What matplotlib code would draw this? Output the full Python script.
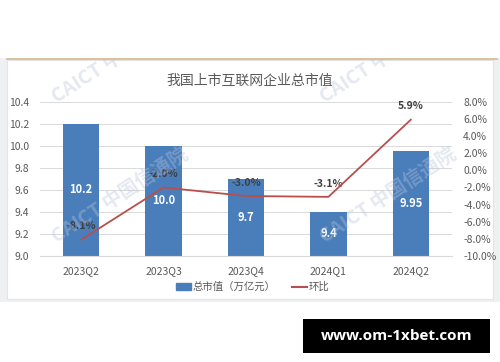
import matplotlib.pyplot as plt
from matplotlib.patches import Rectangle
from matplotlib.lines import Line2D
import numpy as np

plt.rcParams['font.family'] = ['Noto Sans CJK SC', 'DejaVu Sans']

# 数据
quarters = ["2023Q2", "2023Q3", "2023Q4", "2024Q1", "2024Q2"]
market_cap = [10.2, 10.0, 9.7, 9.4, 9.95]          # 总市值（万亿元）
cap_labels = ["10.2", "10.0", "9.7", "9.4", "9.95"]
qoq = [-8.1, -2.0, -3.0, -3.1, 5.9]                # 环比 %

bar_color = "#4a7ebb"
line_color = "#b84f4c"
text_gray = "#595959"

fig = plt.figure(figsize=(5, 3.62), dpi=100)

# 背景框（像素坐标）
bg = fig.add_axes([0, 0, 1, 1], zorder=0)
bg.set_xlim(0, 500)
bg.set_ylim(362, 0)
bg.axis("off")
bg.add_patch(Rectangle((0, 58), 500, 244, color="#eef0f2", lw=0))
bg.add_patch(Rectangle((7, 60), 486, 239, facecolor="white", edgecolor="#e4e4e4", lw=0.8))
bg.plot([7, 497], [58.5, 58.5], color="#d8b88e", lw=1.2)
bg.add_patch(Rectangle((303, 319), 187, 34, color="black", lw=0))
bg.text(396.5, 336, "www.om-1xbet.com", color="white", fontsize=11,
        fontweight="bold", ha="center", va="center", family=["Open Sans", "DejaVu Sans"])

# 主图
ax = fig.add_axes([0.08, 0.2928, 0.824, 0.4262], zorder=1)
ax.patch.set_alpha(0)
x = np.arange(len(quarters))
ax.bar(x, market_cap, width=0.44, color=bar_color, zorder=2)
ax.set_ylim(9.0, 10.4)
ax.set_xlim(-0.5, len(quarters) - 0.5)
ax.set_yticks(np.arange(9.0, 10.41, 0.2))
ax.set_yticklabels([f"{v:.1f}" for v in np.arange(9.0, 10.41, 0.2)])
ax.set_xticks(x)
ax.set_xticklabels(quarters)
ax.grid(axis="y", color="#d9d9d9", lw=0.7, zorder=0)
for s in ["top", "left", "right"]:
    ax.spines[s].set_visible(False)
ax.spines["bottom"].set_color("#d9d9d9")
ax.tick_params(length=0, labelsize=7.5, colors=text_gray)
ax.tick_params(axis="x", pad=7)
ax.tick_params(axis="y", pad=8)

for xi, v, lab in zip(x, market_cap, cap_labels):
    ax.text(xi, (9.0 + v) / 2, lab, color="white", fontsize=8, fontweight="bold",
            ha="center", va="center", zorder=3)

ax2 = ax.twinx()
ax2.plot(x, qoq, color=line_color, lw=1.3, zorder=4)
ax2.set_ylim(-10, 8)
ax2.set_yticks(np.arange(-10, 8.1, 2))
ax2.set_yticklabels([f"{v:.1f}%" for v in np.arange(-10, 8.1, 2)])
for s in ["top", "left", "right", "bottom"]:
    ax2.spines[s].set_visible(False)
ax2.tick_params(length=0, labelsize=7.5, colors=text_gray, pad=8)
for xi, v in zip(x, qoq):
    ax2.annotate(f"{v:.1f}%", (xi, v), xytext=(0, 6), textcoords="offset points",
                 ha="center", va="bottom", fontsize=7.5, fontweight="bold", color="#404040")

fig.text(0.5, 0.776, "我国上市互联网企业总市值", ha="center", va="center",
         fontsize=10, color=text_gray)

handles = [Rectangle((0, 0), 1, 1, color=bar_color),
           Line2D([0], [0], color=line_color, lw=1.5)]
fig.legend(handles, ["总市值（万亿元）", "环比"], loc="center", bbox_to_anchor=(0.506, 0.207),
           ncol=2, frameon=False, fontsize=7.5, handlelength=1.4, handleheight=0.6,
           handletextpad=0.2, columnspacing=1.6, labelcolor=text_gray)

# 水印（裁剪到白色框内）
wm = fig.add_axes([7 / 500, (362 - 299) / 362, 486 / 500, 240 / 362], zorder=5)
wm.set_xlim(7, 493)
wm.set_ylim(299, 59)
wm.axis("off")
for cx, cy in [(120, 55), (120, 195), (388, 55), (388, 195)]:
    wm.text(cx, cy, "CAICT 中国信通院", rotation=33, ha="center", va="center",
            fontsize=14, fontweight="bold", color="#b8c3d9", alpha=0.38,
            rotation_mode="anchor", clip_on=True)

fig.savefig("out.png", dpi=100)
